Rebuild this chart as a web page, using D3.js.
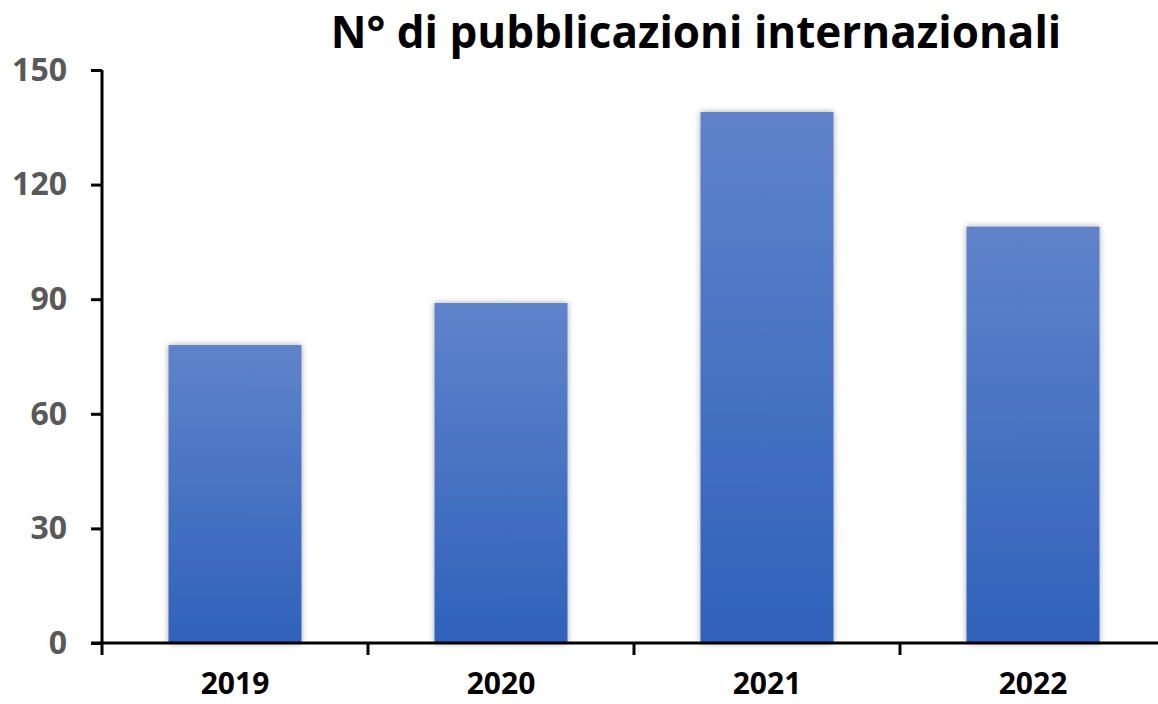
<!DOCTYPE html>
<html>
<head>
<meta charset="utf-8">
<script src="https://cdn.jsdelivr.net/npm/d3@7"></script>
<style>
  body { margin: 0; background: #fff; }
  svg { display: block; font-family: "Open Sans", sans-serif; }
</style>
</head>
<body>
<div id="chart"></div>
<script>
const years = ["2019", "2020", "2021", "2022"];
const publications = [78, 89, 139, 109];
const yTicks = [0, 30, 60, 90, 120, 150];
const title = "N° di pubblicazioni internazionali";

const width = 1158, height = 704;
const margin = { top: 70, right: -8, bottom: 61, left: 102 };

const svg = d3.select("#chart")
  .append("svg")
  .attr("width", width)
  .attr("height", height);

const defs = svg.append("defs");
const grad = defs.append("linearGradient")
  .attr("id", "barFill")
  .attr("x1", 0).attr("y1", 0).attr("x2", 0).attr("y2", 1);
grad.append("stop").attr("offset", "0%").attr("stop-color", "#5f83ca");
grad.append("stop").attr("offset", "100%").attr("stop-color", "#2f62bb");

const shadow = defs.append("filter")
  .attr("id", "shadow")
  .attr("x", "-20%").attr("y", "-20%")
  .attr("width", "140%").attr("height", "140%");
shadow.append("feDropShadow")
  .attr("dx", 0).attr("dy", 0)
  .attr("stdDeviation", 3)
  .attr("flood-color", "#000")
  .attr("flood-opacity", 0.35);

const x = d3.scaleBand()
  .domain(years)
  .range([margin.left, width - margin.right])
  .paddingInner(0.5)
  .paddingOuter(0.25);

const y = d3.scaleLinear()
  .domain([0, 150])
  .range([height - margin.bottom, margin.top]);

// bars
svg.append("g")
  .selectAll("rect")
  .data(years)
  .join("rect")
  .attr("x", (d) => x(d))
  .attr("width", x.bandwidth())
  .attr("y", (d, i) => y(publications[i]))
  .attr("height", (d, i) => y(0) - y(publications[i]))
  .attr("fill", "url(#barFill)")
  .attr("filter", "url(#shadow)");

// y axis
const yAxis = svg.append("g")
  .attr("transform", `translate(${margin.left},0)`)
  .call(d3.axisLeft(y).tickValues(yTicks).tickSize(11).tickPadding(24));
yAxis.select(".domain").attr("stroke", "#000").attr("stroke-width", 3)
  .attr("d", `M0,${y(150)}V${y(0)}`);
yAxis.selectAll(".tick line").attr("stroke", "#000").attr("stroke-width", 3);
yAxis.selectAll(".tick text")
  .attr("fill", "#595959")
  .attr("font-size", 32)
  .attr("font-weight", "bold")
  .attr("font-family", "'Open Sans', sans-serif");

// x axis: ticks at band boundaries
const step = x.step();
const boundaries = d3.range(years.length + 1).map((i) => margin.left + i * step);
const xAxisG = svg.append("g").attr("transform", `translate(0,${y(0)})`);
xAxisG.append("line")
  .attr("x1", margin.left - 11).attr("x2", width)
  .attr("stroke", "#000").attr("stroke-width", 3);
xAxisG.selectAll("line.tick")
  .data(boundaries)
  .join("line")
  .attr("class", "tick")
  .attr("x1", (d) => d).attr("x2", (d) => d)
  .attr("y1", 0).attr("y2", 12)
  .attr("stroke", "#000").attr("stroke-width", 3);
xAxisG.selectAll("text")
  .data(years)
  .join("text")
  .attr("x", (d) => x(d) + x.bandwidth() / 2)
  .attr("y", 51)
  .attr("text-anchor", "middle")
  .attr("font-size", 30)
  .attr("font-weight", "bold")
  .attr("fill", "#000")
  .text((d) => d);

// title
svg.append("text")
  .attr("x", 696)
  .attr("y", 48)
  .attr("text-anchor", "middle")
  .attr("font-size", 44)
  .attr("font-weight", "bold")
  .attr("fill", "#000")
  .text(title);
</script>
</body>
</html>
